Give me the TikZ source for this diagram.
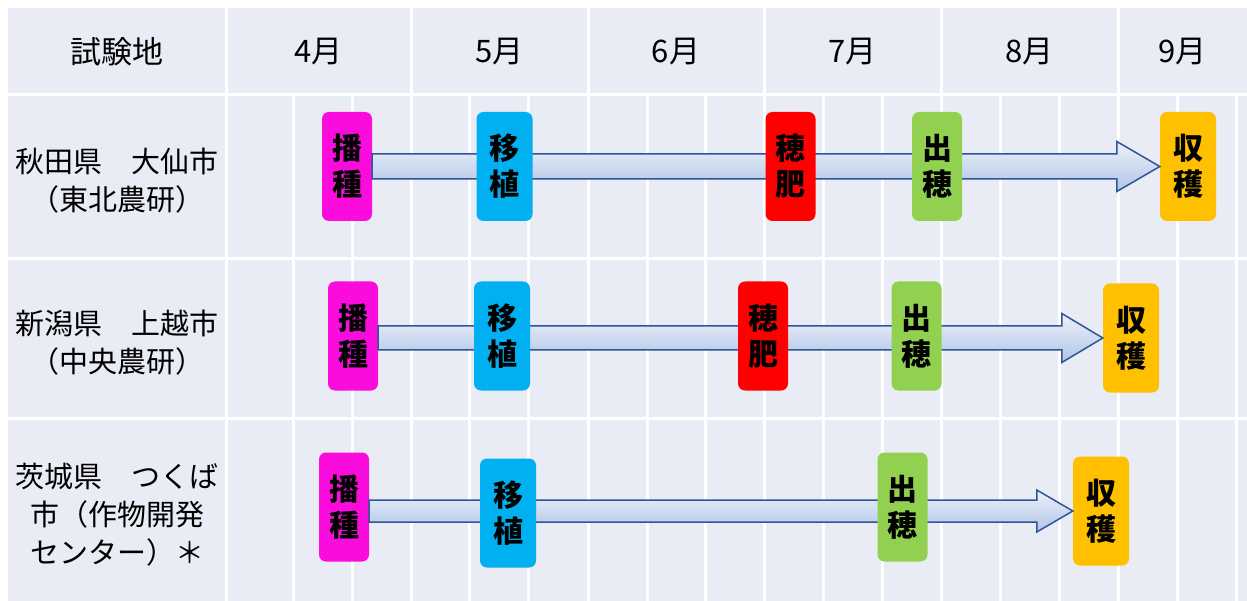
\documentclass[tikz,border=0pt]{standalone}
\usepackage{fontspec}
\setmainfont{Noto Sans CJK JP}
\usetikzlibrary{calc}
\definecolor{cell}{RGB}{233,235,245}
\definecolor{sow}{RGB}{249,12,220}
\definecolor{trans}{RGB}{0,176,240}
\definecolor{fert}{RGB}{255,0,0}
\definecolor{head}{RGB}{146,208,80}
\definecolor{harv}{RGB}{255,192,0}
\definecolor{arrowline}{RGB}{47,85,151}
\definecolor{arrowtop}{RGB}{236,241,250}
\definecolor{arrowbot}{RGB}{176,196,230}
% block arrow: from node, to node, body half height, head half height, head length
\newcommand{\stagearrow}[5]{%
  \draw[flow] ($(#1.east |- #2.west)+(0,-#3)$) -- ($(#2.west)+(-#5,-#3)$) -- ($(#2.west)+(-#5,-#4)$)
    -- (#2.west) -- ($(#2.west)+(-#5,#4)$) -- ($(#2.west)+(-#5,#3)$) -- ($(#1.east |- #2.west)+(0,#3)$) -- cycle;}

\begin{document}
\begin{tikzpicture}[x=1pt, y=-1pt, every node/.style={font=\fontsize{29}{38}\selectfont},
  grid/.style={white, line width=3pt},
  month/.style={font=\fontsize{31}{38}\selectfont},
  stage/.style={rounded corners=7pt, minimum width=50pt, minimum height=109pt, inner sep=0pt, align=center, font=\bfseries\fontsize{30}{36}\selectfont},
  stagew/.style={stage, minimum width=56pt},
  flow/.style={draw=arrowline, line width=1.5pt, top color=arrowtop, bottom color=arrowbot}]
\useasboundingbox (0,0) rectangle (1247,601);
% table
\fill[cell] (8,8) rectangle (1247,601);
\foreach \y in {94.5,258.5,418.5} \draw[grid] (8,\y) -- (1247,\y);
\foreach \x in {226.5,411,588,764,941,1118} \draw[grid] (\x,8) -- (\x,601);
\foreach \x in {293,352,469,528,647,705,823,882,1000,1059,1177,1236} \draw[grid] (\x,94) -- (\x,601);
% header
\node[month] (site) at (117,52) {試験地};
\node[month] (apr) at (318.5,52) {4月};
\node[month] (may) at (499.5,52) {5月};
\node[month] (jun) at (676,52) {6月};
\node[month] (jul) at (852.5,52) {7月};
\node[month] (aug) at (1029.5,52) {8月};
\node[month] (sep) at (1182.5,52) {9月};
% sites
\node[align=center] (akita) at (117,181) {秋田県　大仙市\\（東北農研）};
\node[align=center] (niigata) at (117,343) {新潟県　上越市\\（中央農研）};
\node[align=center] (ibaraki) at (117,515) {茨城県　つくば\\市（作物開発\\センター）＊};
% Akita
\node[stage, fill=sow] (sow1) at (347,166.5) {播\\種};
\node[stagew, fill=harv] (har1) at (1188,166.5) {収\\穫};
\stagearrow{sow1}{har1}{12.5}{25}{43}
\node[stagew, fill=trans] (tra1) at (504.5,166.5) {移\\植};
\node[stage, fill=fert] (fer1) at (790.5,166.5) {穂\\肥};
\node[stage, fill=head] (hea1) at (937,166.5) {出\\穂};
% Niigata
\node[stage, fill=sow] (sow2) at (353,336) {播\\種};
\node[stagew, fill=harv] (har2) at (1131,338) {収\\穫};
\stagearrow{sow2}{har2}{12}{24.5}{41}
\node[stagew, fill=trans] (tra2) at (502,336) {移\\植};
\node[stage, fill=fert] (fer2) at (763,336) {穂\\肥};
\node[stage, fill=head] (hea2) at (916.5,336) {出\\穂};
% Ibaraki
\node[stage, fill=sow] (sow3) at (344,507) {播\\種};
\node[stagew, fill=harv] (har3) at (1101,511) {収\\穫};
\stagearrow{sow3}{har3}{11}{21}{36}
\node[stagew, fill=trans] (tra3) at (508,513) {移\\植};
\node[stage, fill=head] (hea3) at (902.5,507) {出\\穂};
\end{tikzpicture}
\end{document}
